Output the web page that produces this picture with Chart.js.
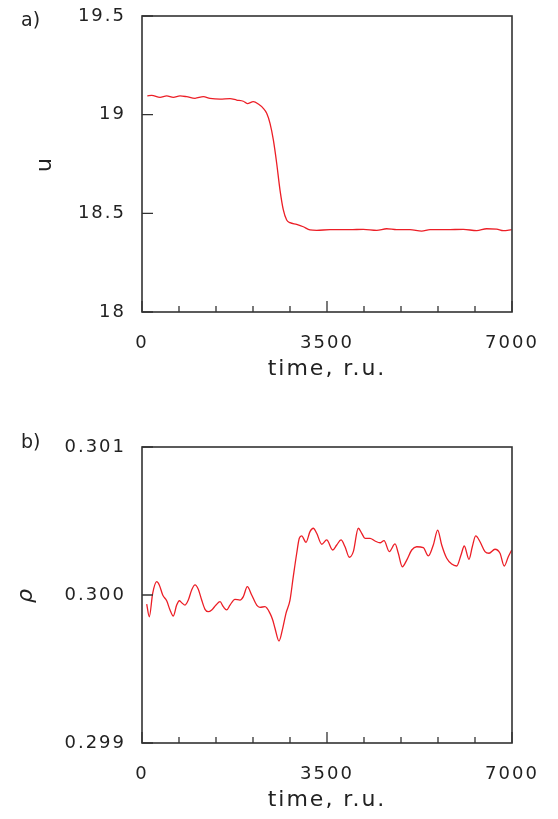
<!DOCTYPE html>
<html><head><meta charset="utf-8">
<script src="https://cdn.jsdelivr.net/npm/chart.js@4"></script>
<style>
html,body{margin:0;padding:0;background:#fff;width:558px;height:819px;overflow:hidden}
.wrap{position:absolute;left:0;width:558px}
.lbl{position:absolute;font-family:'DejaVu Sans';font-size:19px;color:#222;line-height:1}
</style></head><body>
<div class="wrap" style="top:0;height:410px"><canvas id="c1"></canvas></div>
<div class="wrap" style="top:410px;height:409px"><canvas id="c2"></canvas></div>
<div class="lbl" style="left:21px;top:10px">a)</div>
<div class="lbl" style="left:21px;top:432px">b)</div>
<script>
// ---- data ----
const timeU = [100,183,341,467,593,719,845,1003,1160,1286,1476,1665,1791,1917,1993,2106,2201,2295,2359,2422,2485,2548,2611,2674,2737,2800,2926,3052,3178,3305,3557,3935,4187,4440,4629,4818,5070,5291,5449,5765,6080,6332,6521,6710,6836,6994];
const uValues = [19.095,19.098,19.088,19.095,19.088,19.095,19.091,19.083,19.091,19.083,19.079,19.081,19.074,19.068,19.056,19.066,19.054,19.032,19.007,18.956,18.872,18.754,18.618,18.517,18.466,18.453,18.444,18.432,18.416,18.414,18.417,18.417,18.419,18.414,18.422,18.417,18.417,18.410,18.417,18.417,18.419,18.412,18.422,18.420,18.412,18.417];
const timeRho = [89,138,202,278,327,392,467,530,592,656,706,751,814,876,940,1003,1065,1129,1192,1254,1319,1400,1476,1538,1602,1665,1759,1854,1917,1992,2075,2170,2232,2327,2422,2473,2516,2592,2662,2724,2800,2862,2927,2976,3021,3103,3178,3241,3305,3400,3494,3608,3684,3765,3841,3922,3998,4092,4157,4219,4314,4408,4503,4579,4679,4787,4849,4925,5008,5103,5197,5322,5417,5511,5594,5670,5765,5859,5954,6035,6097,6186,6249,6313,6395,6489,6565,6678,6773,6854,6930,6994];
const rhoValues = [0.299939,0.299853,0.300011,0.300090,0.300068,0.300000,0.299961,0.299899,0.299858,0.299932,0.299961,0.299948,0.299932,0.299966,0.300034,0.300068,0.300039,0.299966,0.299903,0.299887,0.299899,0.299932,0.299955,0.299921,0.299899,0.299932,0.299971,0.299966,0.299989,0.300056,0.300000,0.299932,0.299917,0.299921,0.299876,0.299831,0.299775,0.299689,0.299775,0.299876,0.299966,0.300124,0.300282,0.300383,0.300399,0.300356,0.300428,0.300451,0.300417,0.300343,0.300372,0.300304,0.300338,0.300372,0.300326,0.300255,0.300293,0.300451,0.300417,0.300383,0.300383,0.300365,0.300353,0.300367,0.300293,0.300345,0.300282,0.300191,0.300236,0.300304,0.300326,0.300320,0.300264,0.300338,0.300439,0.300338,0.300248,0.300209,0.300196,0.300270,0.300331,0.300241,0.300326,0.300399,0.300360,0.300293,0.300282,0.300309,0.300282,0.300196,0.300259,0.300304];
const timeTicks = [0, 3500, 7000];
const timeMinorStep = 700;
const uTicks = [18, 18.5, 19, 19.5];
const rhoTicks = [0.299, 0.300, 0.301];

const TXT = '#222', AX = '#333', RED = 'rgb(236,30,38)';

const spacingPlugin = {
  id:'spacing',
  beforeLayout(chart){ chart.ctx.letterSpacing = '2px'; },
  beforeDraw(chart){ chart.ctx.letterSpacing = '2px'; }
};
const framePlugin = {
  id:'frame',
  afterDraw(chart){
    const {ctx, chartArea:a, scales:{x, y}} = chart;
    const yMajor = chart.options.plugins.frame.yMajor;
    ctx.save();
    ctx.strokeStyle = AX;
    ctx.lineWidth = 1.6;
    ctx.strokeRect(a.left, a.top, a.right - a.left, a.bottom - a.top);
    ctx.lineWidth = 1.3;
    ctx.beginPath();
    for (let t = x.min; t <= x.max; t += timeMinorStep) {
      const px = x.getPixelForValue(t);
      const len = timeTicks.includes(t) ? 11 : 6;
      ctx.moveTo(px, a.bottom); ctx.lineTo(px, a.bottom - len);
    }
    for (const v of yMajor) {
      const py = y.getPixelForValue(v);
      ctx.moveTo(a.left, py); ctx.lineTo(a.left + 11, py);
    }
    ctx.stroke();
    ctx.restore();
  }
};

function zeroPad(s) { s.paddingTop = 0; s.paddingBottom = 0; s.paddingLeft = 0; s.paddingRight = 0; }

function makeChart(id, xs, ys, yTicks, fmt, cfg) {
  return new Chart(document.getElementById(id), {
    type: 'line',
    data: { datasets: [{
      data: xs.map((t, i) => ({x: t, y: ys[i]})),
      borderColor: RED, borderWidth: 1.3, pointRadius: 0,
      cubicInterpolationMode: 'monotone', fill: false
    }]},
    options: {
      responsive: true, maintainAspectRatio: false, animation: false,
      layout: { padding: { left: 0, right: 46, top: cfg.padTop, bottom: 0 } },
      plugins: { legend: {display:false}, tooltip: {enabled:false}, frame: { yMajor: yTicks } },
      scales: {
        x: {
          type: 'linear', min: 0, max: 7000,
          grid: { display: false, drawTicks: false },
          border: { display: false },
          afterBuildTicks: s => { s.ticks = timeTicks.map(v => ({value: v})); },
          afterFit: s => { s.height = cfg.xH; zeroPad(s); },
          ticks: { autoSkip: false, maxRotation: 0, padding: 21, color: TXT,
                   font: { family: 'DejaVu Sans', size: 18 }, callback: v => String(v) },
          title: { display: true, text: 'time, r.u.', color: TXT,
                   font: { family: 'DejaVu Sans', size: 22 }, padding: { top: 0, bottom: cfg.xTitlePad } }
        },
        y: {
          type: 'linear', min: yTicks[0], max: yTicks[yTicks.length - 1],
          grid: { display: false, drawTicks: false },
          border: { display: false },
          afterBuildTicks: s => { s.ticks = yTicks.map(v => ({value: v})); },
          afterFit: s => { s.width = 142; zeroPad(s); },
          ticks: { autoSkip: false, padding: 16, color: TXT,
                   font: { family: 'DejaVu Sans', size: 18 }, callback: fmt },
          title: { display: true, text: cfg.yTitle, color: TXT,
                   font: { family: 'DejaVu Sans', size: 22, style: cfg.yStyle }, padding: { top: cfg.yTitlePad, bottom: 0 } }
        }
      }
    },
    plugins: [spacingPlugin, framePlugin]
  });
}

makeChart('c1', timeU, uValues, uTicks, v => String(v),
  { padTop: 16, xH: 98, xTitlePad: 28, yTitle: 'u', yStyle: 'normal', yTitlePad: 32 });
makeChart('c2', timeRho, rhoValues, rhoTicks, v => v.toFixed(3),
  { padTop: 37, xH: 76, xTitlePad: 6, yTitle: 'ρ', yStyle: 'italic', yTitlePad: 13 });
</script>
</body></html>
